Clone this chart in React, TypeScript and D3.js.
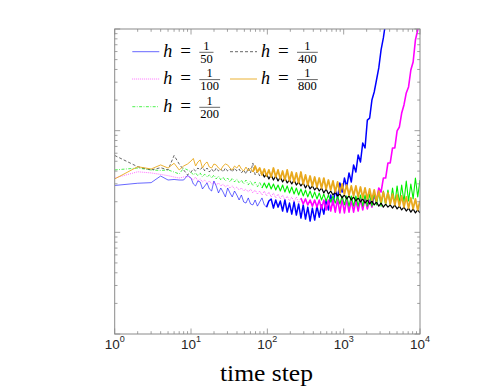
import * as d3 from 'd3'

const W = 499
const H = 388
const PLOT = { left: 114.7, right: 420, top: 29, bottom: 334 }

const STEPS = [
  1, 2, 3, 4, 5, 6, 7, 8, 9,
  10, 10.72, 11.48, 12.3, 13.18, 14.13, 15.14, 16.22, 17.38, 18.62,
  19.95, 21.38, 22.91, 24.55, 26.3, 28.18, 30.2, 32.36, 34.67, 37.15,
  39.81, 42.66, 45.71, 48.98, 52.48, 56.23, 60.26, 64.57, 69.18, 74.13,
  79.43, 85.11, 91.2, 97.72, 104.7, 112.2, 120.2, 128.8, 138, 147.9,
  158.5, 169.8, 182, 195, 208.9, 223.9, 239.9, 257, 275.4, 295.1,
  316.2, 338.8, 363.1, 389, 416.9, 446.7, 478.6, 512.9, 549.5, 588.8,
  631, 676.1, 724.4, 776.2, 831.8, 891.3, 955, 1023, 1096, 1175,
  1259, 1349, 1445, 1549, 1660, 1778, 1905, 2042, 2188, 2344,
  2512, 2692, 2884, 3090, 3311, 3548, 3802, 4074, 4365, 4677,
  5012, 5370, 5754, 6166, 6607, 7079, 7586, 8128, 8710, 9333, 10000
]

// h = 1/50
const H50 = [
  0.0289, 0.0304, 0.0308, 0.0358, 0.0327, 0.0331, 0.0327, 0.0327, 0.0363,
  0.0342, 0.0299, 0.0286, 0.0320, 0.0313, 0.0267, 0.0286, 0.0306, 0.0267, 0.0255,
  0.0320, 0.0286, 0.0244, 0.0273, 0.0249, 0.0223, 0.0273, 0.0244, 0.0223, 0.0255,
  0.0233, 0.0208, 0.0233, 0.0199, 0.0194, 0.0218, 0.0190, 0.0186, 0.0208, 0.0181,
  0.0199, 0.0218, 0.0186, 0.0177, 0.0203, 0.0213, 0.0173, 0.0208, 0.0177, 0.0203,
  0.0162, 0.0208, 0.0158, 0.0194, 0.0151, 0.0199, 0.0148, 0.0190, 0.0138, 0.0186,
  0.0135, 0.0177, 0.0129, 0.0173, 0.0132, 0.0181, 0.0141, 0.0186, 0.0151, 0.0208,
  0.0166, 0.0233, 0.0186, 0.0261, 0.0218, 0.0306, 0.0249, 0.0342, 0.0279, 0.0384,
  0.0313, 0.0460, 0.0392, 0.0577, 0.0492, 0.0757, 0.0676, 0.127, 0.133, 0.200,
  0.240, 0.315, 0.414, 0.622, 0.816, 1.17, 1.54
]

// h = 1/100
const H100 = [
  0.0342, 0.0394, 0.0384, 0.0371, 0.0361, 0.0350, 0.0342, 0.0350, 0.0353,
  0.0342, 0.0327, 0.0350, 0.0320, 0.0335, 0.0313, 0.0327, 0.0306, 0.0320, 0.0299,
  0.0313, 0.0292, 0.0306, 0.0286, 0.0299, 0.0279, 0.0292, 0.0273, 0.0286, 0.0267,
  0.0279, 0.0261, 0.0273, 0.0255, 0.0267, 0.0249, 0.0267, 0.0244, 0.0261, 0.0238,
  0.0255, 0.0233, 0.0255, 0.0228, 0.0249, 0.0223, 0.0244, 0.0218, 0.0238, 0.0213,
  0.0233, 0.0208, 0.0228, 0.0203, 0.0223, 0.0199, 0.0223, 0.0194, 0.0218, 0.0190,
  0.0213, 0.0186, 0.0208, 0.0181, 0.0208, 0.0177, 0.0208, 0.0170, 0.0208, 0.0166,
  0.0208, 0.0162, 0.0208, 0.0158, 0.0213, 0.0155, 0.0213, 0.0155, 0.0213, 0.0158,
  0.0208, 0.0158, 0.0208, 0.0162, 0.0213, 0.0166, 0.0218, 0.0170, 0.0208, 0.0177,
  0.0228, 0.0203, 0.0273, 0.0249, 0.0342, 0.0342, 0.0481, 0.0481, 0.0676, 0.0676,
  0.0993, 0.1087, 0.149, 0.179, 0.235, 0.269, 0.395, 0.474, 0.780, 0.978, 1.44
]

// h = 1/200
const H200 = [
  0.0411, 0.0429, 0.0411, 0.0406, 0.0411, 0.0392, 0.0375, 0.0429, 0.0411,
  0.0392, 0.0367, 0.0384, 0.0358, 0.0384, 0.0350, 0.0375, 0.0350, 0.0367, 0.0342,
  0.0367, 0.0335, 0.0358, 0.0327, 0.0350, 0.0320, 0.0342, 0.0313, 0.0342, 0.0313,
  0.0335, 0.0306, 0.0327, 0.0299, 0.0327, 0.0292, 0.0320, 0.0286, 0.0313, 0.0279,
  0.0313, 0.0273, 0.0306, 0.0273, 0.0306, 0.0267, 0.0299, 0.0261, 0.0292, 0.0255,
  0.0292, 0.0249, 0.0286, 0.0244, 0.0279, 0.0238, 0.0273, 0.0233, 0.0267, 0.0228,
  0.0261, 0.0223, 0.0255, 0.0218, 0.0249, 0.0213, 0.0244, 0.0208, 0.0238, 0.0203,
  0.0233, 0.0199, 0.0228, 0.0194, 0.0228, 0.0190, 0.0228, 0.0186, 0.0228, 0.0181,
  0.0228, 0.0181, 0.0228, 0.0181, 0.0233, 0.0181, 0.0233, 0.0181, 0.0238, 0.0181,
  0.0244, 0.0186, 0.0249, 0.0181, 0.0255, 0.0186, 0.0261, 0.0186, 0.0273, 0.0190,
  0.0286, 0.0194, 0.0292, 0.0199, 0.0320, 0.0203, 0.0299, 0.0213, 0.0342, 0.0223, 0.0327
]

// h = 1/400
const H400 = [
  0.0570, 0.0442, 0.0411, 0.0432, 0.0411, 0.0570, 0.0470, 0.0411, 0.0367,
  0.0392, 0.0420, 0.0401, 0.0429, 0.0411, 0.0439, 0.0401, 0.0429, 0.0392, 0.0420,
  0.0392, 0.0429, 0.0401, 0.0420, 0.0392, 0.0429, 0.0401, 0.0420, 0.0392, 0.0429,
  0.0401, 0.0420, 0.0384, 0.0411, 0.0375, 0.0429, 0.0384, 0.0481, 0.0367, 0.0401,
  0.0358, 0.0392, 0.0350, 0.0375, 0.0335, 0.0367, 0.0327, 0.0358, 0.0320, 0.0350,
  0.0313, 0.0342, 0.0306, 0.0327, 0.0299, 0.0327, 0.0292, 0.0313, 0.0286, 0.0306,
  0.0273, 0.0299, 0.0267, 0.0286, 0.0261, 0.0279, 0.0255, 0.0273, 0.0244, 0.0267,
  0.0238, 0.0255, 0.0233, 0.0249, 0.0228, 0.0238, 0.0218, 0.0233, 0.0213, 0.0228,
  0.0208, 0.0223, 0.0203, 0.0218, 0.0199, 0.0213, 0.0194, 0.0208, 0.0190, 0.0203,
  0.0186, 0.0199, 0.0181, 0.0194, 0.0177, 0.0190, 0.0177, 0.0186, 0.0173, 0.0186,
  0.0170, 0.0181, 0.0166, 0.0177, 0.0162, 0.0173, 0.0158, 0.0170, 0.0155, 0.0166, 0.0155
]

// h = 1/800
const H800 = [
  0.0335, 0.0442, 0.0420, 0.0460, 0.0429, 0.0478, 0.0411, 0.0449, 0.0470,
  0.0503, 0.0533, 0.0449, 0.0492, 0.0515, 0.0429, 0.0470, 0.0492, 0.0439, 0.0429,
  0.0470, 0.0460, 0.0429, 0.0411, 0.0449, 0.0470, 0.0460, 0.0429, 0.0411, 0.0449,
  0.0429, 0.0460, 0.0420, 0.0401, 0.0439, 0.0401, 0.0429, 0.0392, 0.0449, 0.0392,
  0.0429, 0.0367, 0.0420, 0.0358, 0.0411, 0.0350, 0.0429, 0.0350, 0.0411, 0.0335,
  0.0401, 0.0327, 0.0411, 0.0320, 0.0392, 0.0313, 0.0384, 0.0306, 0.0392, 0.0299,
  0.0367, 0.0292, 0.0358, 0.0286, 0.0350, 0.0279, 0.0342, 0.0273, 0.0342, 0.0267,
  0.0327, 0.0261, 0.0320, 0.0249, 0.0313, 0.0244, 0.0299, 0.0238, 0.0292, 0.0233,
  0.0286, 0.0228, 0.0286, 0.0223, 0.0279, 0.0218, 0.0273, 0.0213, 0.0267, 0.0208,
  0.0261, 0.0203, 0.0255, 0.0199, 0.0249, 0.0194, 0.0244, 0.0190, 0.0238, 0.0186,
  0.0233, 0.0181, 0.0228, 0.0177, 0.0223, 0.0173, 0.0218, 0.0170, 0.0213, 0.0166, 0.0203
]

const DENOMS = ['50', '100', '200', '400', '800']
const X_TICK_EXPONENTS = ['0', '1', '2', '3', '4']
const X_LABEL = 'time step'

// split: index where the trace gets so dense that it renders as a solid band
const SERIES = [
  { denom: DENOMS[0], values: H50, color: '#0000ff', dash: undefined, width: 0.6, split: 42, dense: 1.5 },
  { denom: DENOMS[1], values: H100, color: '#ff00ff', dash: '0.8,1.2', width: 0.7, split: 57, dense: 1.6 },
  { denom: DENOMS[2], values: H200, color: '#00ee00', dash: '3,1.5,0.8,1.5', width: 0.7, split: 40, dense: 1.1 },
  { denom: DENOMS[3], values: H400, color: '#000000', dash: '3,2', width: 0.6, split: 40, dense: 1.2 },
  { denom: DENOMS[4], values: H800, color: '#e9a91e', dash: undefined, width: 0.9, split: 36, dense: 1.8 }
]

// legend slots: [line start x, row y]
const LEGEND_SLOTS = [
  [132.3, 51.7], [132.3, 79], [132.3, 106.7], [230, 51.7], [230, 79]
]

const AXIS = '#8a8a8a'
const TEXT = '#262626'

export default function App() {
  const x = d3.scaleLog().domain([1, 1e4]).range([PLOT.left, PLOT.right])
  const y = d3.scaleLog().domain([1e-3, 1]).range([PLOT.bottom, PLOT.top])

  const isMajor = (v: number) => Math.abs(Math.log10(v) - Math.round(Math.log10(v))) < 1e-9

  const xTicks = x.ticks()
  const yTicks = y.ticks()

  const line = (vals: number[], offset: number) =>
    d3.line<number>()
      .x((_, i) => x(STEPS[i + offset]))
      .y(d => y(d))(vals) || ''

  return (
    <svg width={W} height={H} style={{ position: 'absolute', left: 0, top: 0, background: '#fff' }}>
      <defs>
        <clipPath id="plot-clip">
          <rect x={PLOT.left} y={PLOT.top} width={PLOT.right - PLOT.left} height={PLOT.bottom - PLOT.top} />
        </clipPath>
      </defs>

      {/* curves */}
      <g clipPath="url(#plot-clip)">
        {SERIES.map(s => (
          <g key={s.denom}>
            <path
              d={line(s.values.slice(0, s.split + 1), 0)}
              fill="none"
              stroke={s.color}
              strokeWidth={s.width}
              strokeDasharray={s.dash}
              strokeLinejoin="round"
            />
            <path
              d={line(s.values.slice(s.split), s.split)}
              fill="none"
              stroke={s.color}
              strokeWidth={s.dense}
              strokeLinejoin="round"
            />
          </g>
        ))}
      </g>

      {/* box */}
      <rect
        x={PLOT.left}
        y={PLOT.top}
        width={PLOT.right - PLOT.left}
        height={PLOT.bottom - PLOT.top}
        fill="none"
        stroke={AXIS}
        strokeWidth={1}
      />

      {/* x ticks, bottom and top */}
      {xTicks.map((t, i) => {
        const len = isMajor(t) ? 5.5 : 2.8
        const px = x(t)
        return (
          <g key={`xt-${i}`} stroke={AXIS} strokeWidth={0.8}>
            <line x1={px} x2={px} y1={PLOT.bottom} y2={PLOT.bottom - len} />
            <line x1={px} x2={px} y1={PLOT.top} y2={PLOT.top + len} />
          </g>
        )
      })}

      {/* y ticks, left and right */}
      {yTicks.map((t, i) => {
        const len = isMajor(t) ? 5.5 : 2.8
        const py = y(t)
        return (
          <g key={`yt-${i}`} stroke={AXIS} strokeWidth={0.8}>
            <line x1={PLOT.left} x2={PLOT.left + len} y1={py} y2={py} />
            <line x1={PLOT.right} x2={PLOT.right - len} y1={py} y2={py} />
          </g>
        )
      })}

      {/* x tick labels */}
      {X_TICK_EXPONENTS.map(e => (
        <text
          key={`xl-${e}`}
          x={x(Math.pow(10, +e))}
          y={348.5}
          textAnchor="middle"
          fill={TEXT}
          fontFamily="'Liberation Sans', Arial, sans-serif"
          fontSize={13.5}
        >
          10<tspan dy={-6.5} fontSize={9}>{e}</tspan>
        </text>
      ))}

      {/* x axis label */}
      <text
        x={266.5}
        y={381}
        textAnchor="middle"
        fill="#000"
        fontFamily="'Liberation Serif', 'Times New Roman', serif"
        fontSize={23}
        textLength={93}
        lengthAdjust="spacingAndGlyphs"
      >
        {X_LABEL}
      </text>

      {/* legend */}
      <g fontFamily="'Liberation Serif', 'Times New Roman', serif" fill="#000">
        {SERIES.map((s, i) => {
          const [x0, ry] = LEGEND_SLOTS[i]
          const w = s.denom.length * 6.6
          const fx = x0 + 67.5
          return (
            <g key={`lg-${s.denom}`}>
              <line
                x1={x0}
                x2={x0 + 27}
                y1={ry}
                y2={ry}
                stroke={s.color}
                strokeWidth={s.width}
                strokeDasharray={s.dash}
              />
              <text x={x0 + 31} y={ry + 5} fontSize={18} fontStyle="italic">h</text>
              <text x={x0 + 53.3} y={ry + 5} fontSize={19} textAnchor="middle">=</text>
              <text x={fx + w / 2} y={ry - 1.7} fontSize={12.5} textAnchor="middle">1</text>
              <line x1={fx - 0.5} x2={fx + w + 0.5} y1={ry + 0.6} y2={ry + 0.6} stroke="#000" strokeWidth={0.6} />
              <text x={fx + w / 2} y={ry + 10.8} fontSize={12.5} textAnchor="middle">{s.denom}</text>
            </g>
          )
        })}
      </g>
    </svg>
  )
}
